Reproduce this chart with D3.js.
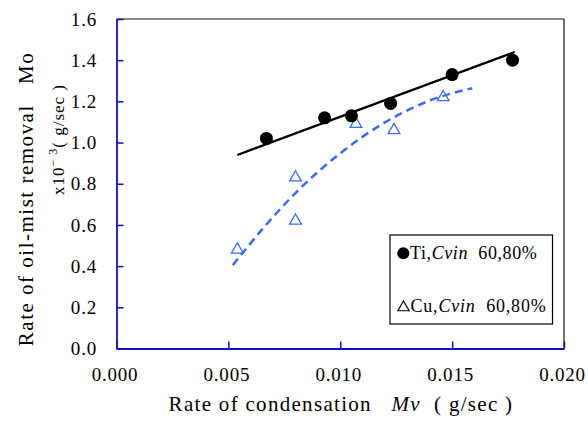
<!DOCTYPE html>
<html>
<head>
<meta charset="utf-8">
<script src="https://cdn.jsdelivr.net/npm/d3@7"></script>
<style>
  html, body { margin: 0; padding: 0; background: #fff; }
  svg { display: block; }
  text { font-family: "Liberation Serif", "Times New Roman", serif; fill: #000; white-space: pre; }
</style>
</head>
<body>
<svg id="chart" width="588" height="426"></svg>
<script>
// ---- data ----
const tiX = [0.0067, 0.0093, 0.0105, 0.01225, 0.0150, 0.0177];
const tiY = [1.02, 1.12, 1.13, 1.19, 1.33, 1.40];
const cuX = [0.0054, 0.0080, 0.0080, 0.0107, 0.0124, 0.0146];
const cuY = [0.48, 0.83, 0.62, 1.09, 1.06, 1.22];
// trend lines
const tiFitX = [0.0054, 0.0178];
const tiFitY = [0.94, 1.44];
const cuFitX = [0.0052, 0.0065, 0.0080, 0.0100, 0.0120, 0.0140, 0.0159];
const cuFitY = [0.405, 0.577, 0.755, 0.948, 1.098, 1.204, 1.264];
const xTicks = [0, 0.005, 0.010, 0.015, 0.020];
const yTicks = [0, 0.2, 0.4, 0.6, 0.8, 1.0, 1.2, 1.4, 1.6];
const legendLabels = [["Ti,", "Cvin", "  60,80%"], ["Cu,", "Cvin", "  60,80%"]];

// ---- layout ----
const svg = d3.select("#chart");
const L = 116.5, R = 564, T = 19, B = 348.5;
const x = d3.scaleLinear().domain([0, 0.02]).range([L, R]);
const y = d3.scaleLinear().domain([0, 1.6]).range([B, T]);
const axisBlue = "#1010c8";
const cuBlue = "#3a6cf4";

// frame top/right
svg.append("line").attr("x1", L).attr("x2", R).attr("y1", T).attr("y2", T).attr("stroke", "#111").attr("stroke-width", 1.2);
svg.append("line").attr("x1", R).attr("x2", R).attr("y1", T).attr("y2", B).attr("stroke", "#111").attr("stroke-width", 1.2);

// axes
const gy = svg.append("g").attr("transform", `translate(${L},0)`)
  .call(d3.axisLeft(y).tickValues(yTicks).tickFormat(d3.format(".1f")).tickSizeInner(-7).tickSizeOuter(0).tickPadding(19.5));
const gx = svg.append("g").attr("transform", `translate(0,${B})`)
  .call(d3.axisBottom(x).tickValues(xTicks).tickFormat(d3.format(".3f")).tickSizeInner(-7).tickSizeOuter(0).tickPadding(19));
[gy, gx].forEach(g => {
  g.select(".domain").attr("stroke", axisBlue).attr("stroke-width", 1.8);
  g.selectAll(".tick line").attr("stroke", axisBlue).attr("stroke-width", 1.5);
  g.selectAll(".tick text").attr("fill", "#000").style("font-size", "19px").style("letter-spacing", "0.8px")
    .style("font-family", "'Liberation Serif', 'Times New Roman', serif");
});
gx.selectAll(".tick text").attr("dx", -2);

// trend lines
const tiFit = tiFitX.map((v, i) => [v, tiFitY[i]]);
const cuFit = cuFitX.map((v, i) => [v, cuFitY[i]]);
const lineGen = d3.line().x(d => x(d[0])).y(d => y(d[1])).curve(d3.curveMonotoneX);
svg.append("path").attr("d", lineGen(cuFit)).attr("fill", "none").attr("stroke", cuBlue)
  .attr("stroke-width", 2.5).attr("stroke-dasharray", "8,5");
svg.append("path").attr("d", lineGen(tiFit)).attr("fill", "none").attr("stroke", "#000").attr("stroke-width", 2.2);

// markers
const tri = d3.symbol().type(d3.symbolTriangle).size(60);
svg.selectAll(".cu").data(cuX.map((v, i) => [v, cuY[i]])).enter().append("path")
  .attr("d", tri).attr("transform", d => `translate(${x(d[0])},${y(d[1])})`)
  .attr("fill", "none").attr("stroke", cuBlue).attr("stroke-width", 1.3);
svg.selectAll(".ti").data(tiX.map((v, i) => [v, tiY[i]])).enter().append("circle")
  .attr("cx", d => x(d[0])).attr("cy", d => y(d[1])).attr("r", 6.5).attr("fill", "#000");

// legend
svg.append("rect").attr("x", 390).attr("y", 235).attr("width", 162.5).attr("height", 89)
  .attr("fill", "#fff").attr("stroke", "#000").attr("stroke-width", 1.2);
svg.append("circle").attr("cx", 403.3).attr("cy", 253.3).attr("r", 6).attr("fill", "#000");
svg.append("path").attr("d", d3.symbol().type(d3.symbolTriangle).size(55))
  .attr("transform", "translate(403.5,307.5)").attr("fill", "none").attr("stroke", "#000").attr("stroke-width", 1.2);
legendLabels.forEach((lab, i) => {
  const t = svg.append("text").attr("x", i === 0 ? 410 : 410.5).attr("y", i === 0 ? 258.5 : 312)
    .style("font-size", "18px").style("letter-spacing", i === 0 ? "0.6px" : "0.8px");
  t.append("tspan").text(lab[0]);
  t.append("tspan").style("font-style", "italic").text(lab[1]);
  t.append("tspan").text(lab[2]);
});

// axis titles
const xt = svg.append("text").attr("x", 341).attr("y", 411).attr("text-anchor", "middle")
  .style("font-size", "21px").style("letter-spacing", "1.3px");
xt.append("tspan").text("Rate of condensation   ");
xt.append("tspan").style("font-style", "italic").text("Mv");
xt.append("tspan").text("  ( g/sec )");

svg.append("text").attr("transform", "translate(33,199) rotate(-90)").attr("text-anchor", "middle")
  .style("font-size", "21px").style("letter-spacing", "1.5px").text("Rate of oil-mist removal   Mo");
const y2 = svg.append("text").attr("transform", "translate(63.5,139.5) rotate(-90)").attr("text-anchor", "middle")
  .style("font-size", "17px").style("letter-spacing", "1px");
y2.append("tspan").text("x10");
y2.append("tspan").attr("dy", -7).style("font-size", "12px").text("\u2212 3");
y2.append("tspan").attr("dy", 7).text("( g/sec )");
</script>
</body>
</html>
